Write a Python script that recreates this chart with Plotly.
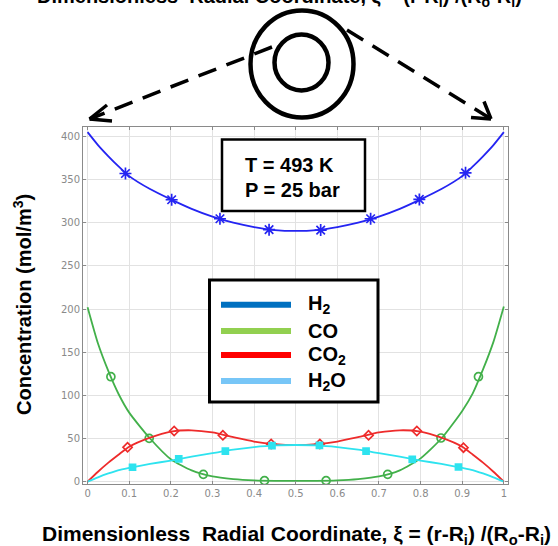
import plotly.graph_objects as go

# Radial positions (dimensionless) used for the smooth concentration profiles
XI = [0, 0.025, 0.05, 0.075, 0.1, 0.15, 0.2, 0.25, 0.3, 0.35, 0.4, 0.45, 0.5,
      0.55, 0.6, 0.65, 0.7, 0.75, 0.8, 0.85, 0.9, 0.925, 0.95, 0.975, 1]

# Concentration profiles, mol/m^3
H2 = [405, 390, 377, 365, 354, 339, 327, 316, 307, 300, 295, 291.5, 290.5,
      291.5, 295, 300, 307, 316, 327, 339, 354, 365, 377, 390, 405]
CO = [202, 160, 128, 101, 80, 50, 26, 13, 6, 3, 1.5, 1, 1,
      1, 1.5, 3, 6, 13, 27, 50, 82, 102, 130, 162, 203]
CO2 = [0, 11.5, 22, 31.5, 40.5, 51, 58, 59.5, 57, 51.5, 46.5, 43.5, 42.5,
       43.5, 46.5, 51.5, 57, 59.5, 58, 51, 40.5, 31.5, 22, 11.5, 0]
H2O = [0, 5, 9.5, 13.5, 16, 20.5, 24.5, 29, 33, 37, 40, 42, 42.5,
       42, 40, 37, 33, 29, 24.5, 20.5, 16, 13.5, 9.5, 5, 0]

# Collocation-point markers for each species
H2_MX = [0.091, 0.202, 0.318, 0.436, 0.560, 0.680, 0.797, 0.908]
H2_MY = [357, 326.6, 304.6, 292, 291.5, 304.6, 327, 357.8]
CO_MX = [0.056, 0.148, 0.278, 0.425, 0.573, 0.721, 0.849, 0.939]
CO_MY = [121.6, 50.2, 8.5, 1.2, 1.2, 8.5, 50.6, 121.6]
CO2_MX = [0.096, 0.208, 0.325, 0.441, 0.558, 0.675, 0.791, 0.903]
CO2_MY = [39.8, 58.7, 53.7, 43.7, 43.7, 53.7, 58.7, 39.4]
H2O_MX = [0.108, 0.219, 0.331, 0.443, 0.557, 0.669, 0.780, 0.891]
H2O_MY = [16.7, 26.3, 35.5, 41.7, 42.1, 35.5, 25.9, 17]

X_TICKS = [0, 0.1, 0.2, 0.3, 0.4, 0.5, 0.6, 0.7, 0.8, 0.9, 1]
X_TICK_TEXT = ["0", "0.1", "0.2", "0.3", "0.4", "0.5", "0.6", "0.7", "0.8", "0.9", "1"]
Y_TICKS = [0, 50, 100, 150, 200, 250, 300, 350, 400]

LEGEND_NAMES = ["H<sub>2</sub>", "CO", "CO<sub>2</sub>", "H<sub>2</sub>O"]
LEGEND_COLORS = ["#0070C0", "#92D050", "#FF0000", "#77C6F7"]

# Figure geometry (pixels)
W, H = 558, 546
ML, MR, MT, MB = 83, 50, 127, 62
PW, PH = W - ML - MR, H - MT - MB


def fx(px):
    return (px - ML) / PW


def fy(py):
    return 1 - (py - MT) / PH


BOLD = dict(family="Liberation Sans, Arial, sans-serif", color="black", weight="bold")

series = [
    ("H2", H2, H2_MX, H2_MY, "#2424f2", "asterisk-open", 10),
    ("CO", CO, CO_MX, CO_MY, "#42b04a", "circle-open", 8),
    ("CO2", CO2, CO2_MX, CO2_MY, "#ee2b2b", "diamond-open", 7),
    ("H2O", H2O, H2O_MX, H2O_MY, "#2ee3ef", "square", 6),
]

fig = go.Figure()
for name, ys, mx, my, col, sym, sz in series:
    fig.add_trace(go.Scatter(x=XI, y=ys, mode="lines", name=name,
                             line=dict(color=col, width=1.8, shape="spline", smoothing=0.6),
                             showlegend=False, hoverinfo="skip"))
    fig.add_trace(go.Scatter(x=mx, y=my, mode="markers", name=name,
                             marker=dict(symbol=sym, size=sz, color=col,
                                         line=dict(color=col, width=1.7)),
                             showlegend=False))

shapes = []
annotations = []

# Boxes: operating conditions and legend
shapes.append(dict(type="rect", xref="paper", yref="paper",
                   x0=fx(222), x1=fx(365), y0=fy(211), y1=fy(139.5),
                   line=dict(color="black", width=2.5), fillcolor="white", layer="above"))
shapes.append(dict(type="rect", xref="paper", yref="paper",
                   x0=fx(209.5), x1=fx(378), y0=fy(402), y1=fy(280),
                   line=dict(color="black", width=3), fillcolor="white", layer="above"))

annotations.append(dict(xref="paper", yref="paper", x=fx(243), y=fy(164.5),
                        xanchor="left", yanchor="middle", showarrow=False,
                        text="T = 493 K", font=dict(size=20, **BOLD)))
annotations.append(dict(xref="paper", yref="paper", x=fx(243), y=fy(189.5),
                        xanchor="left", yanchor="middle", showarrow=False,
                        text="P = 25 bar", font=dict(size=20, **BOLD)))

legend_y = [304.7, 331, 355, 381]
for name, col, ly in zip(LEGEND_NAMES, LEGEND_COLORS, legend_y):
    shapes.append(dict(type="line", xref="paper", yref="paper",
                       x0=fx(221), x1=fx(291), y0=fy(ly), y1=fy(ly),
                       line=dict(color=col, width=6), layer="above"))
    annotations.append(dict(xref="paper", yref="paper", x=fx(306), y=fy(ly),
                            xanchor="left", yanchor="middle", showarrow=False,
                            text=name, font=dict(size=20, **BOLD)))

# Annulus sketch: outer and inner circles
shapes.append(dict(type="circle", xref="paper", yref="paper",
                   x0=fx(250.5), x1=fx(353.5), y0=fy(117.5), y1=fy(10.5),
                   line=dict(color="black", width=4.5), layer="above"))
shapes.append(dict(type="circle", xref="paper", yref="paper",
                   x0=fx(274.5), x1=fx(328.5), y0=fy(90.5), y1=fy(34.5),
                   line=dict(color="black", width=4.5), layer="above"))

# Dashed arrows from the annulus to both walls
arrows = [
    ((272, 47), (89.5, 119), [(107, 105), (112, 121)]),
    ((347, 30), (491, 119), [(471, 117.5), (484, 101.5)]),
]
for (sx, sy), (tx, ty), arms in arrows:
    shapes.append(dict(type="line", xref="paper", yref="paper",
                       x0=fx(sx), y0=fy(sy), x1=fx(tx), y1=fy(ty),
                       line=dict(color="black", width=3.5, dash="19px,11px"), layer="above"))
    for ax, ay in arms:
        shapes.append(dict(type="line", xref="paper", yref="paper",
                           x0=fx(tx), y0=fy(ty), x1=fx(ax), y1=fy(ay),
                           line=dict(color="black", width=3.5), layer="above"))

xtitle = ("Dimensionless\u00a0 Radial Coordinate, \u03be = (r-R<sub>i</sub>) "
          "/(R<sub>o</sub>-R<sub>i</sub>)")
# Axis titles
annotations.append(dict(xref="paper", yref="paper", x=fx(296), y=fy(535),
                        xanchor="center", yanchor="middle", showarrow=False,
                        text=xtitle, font=dict(size=21, **BOLD)))
annotations.append(dict(xref="paper", yref="paper", x=fx(279), y=fy(-3),
                        xanchor="center", yanchor="middle", showarrow=False,
                        text=xtitle, font=dict(size=20, **BOLD)))
annotations.append(dict(xref="paper", yref="paper", x=fx(22), y=fy(305),
                        xanchor="center", yanchor="middle", showarrow=False,
                        textangle=-90, text="Concentration (mol/m<sup>3</sup>)",
                        font=dict(size=20, **BOLD)))

axis_common = dict(showline=True, linecolor="#8a8a8a", linewidth=1, mirror="ticks",
                   showgrid=True, gridcolor="#e2e2e2", gridwidth=1, zeroline=False,
                   ticks="inside", ticklen=3, tickcolor="#8a8a8a",
                   tickfont=dict(family="DejaVu Sans, sans-serif", size=10, color="#8a8a8a"))

fig.update_layout(
    width=W, height=H,
    margin=dict(l=ML, r=MR, t=MT, b=MB, pad=0),
    paper_bgcolor="white", plot_bgcolor="white",
    xaxis=dict(range=[-0.011, 1.010], tickvals=X_TICKS, ticktext=X_TICK_TEXT, **axis_common),
    yaxis=dict(range=[-2.7, 410.9], tickvals=Y_TICKS, **axis_common),
    shapes=shapes, annotations=annotations, showlegend=False,
)

fig.write_html("out.html")
